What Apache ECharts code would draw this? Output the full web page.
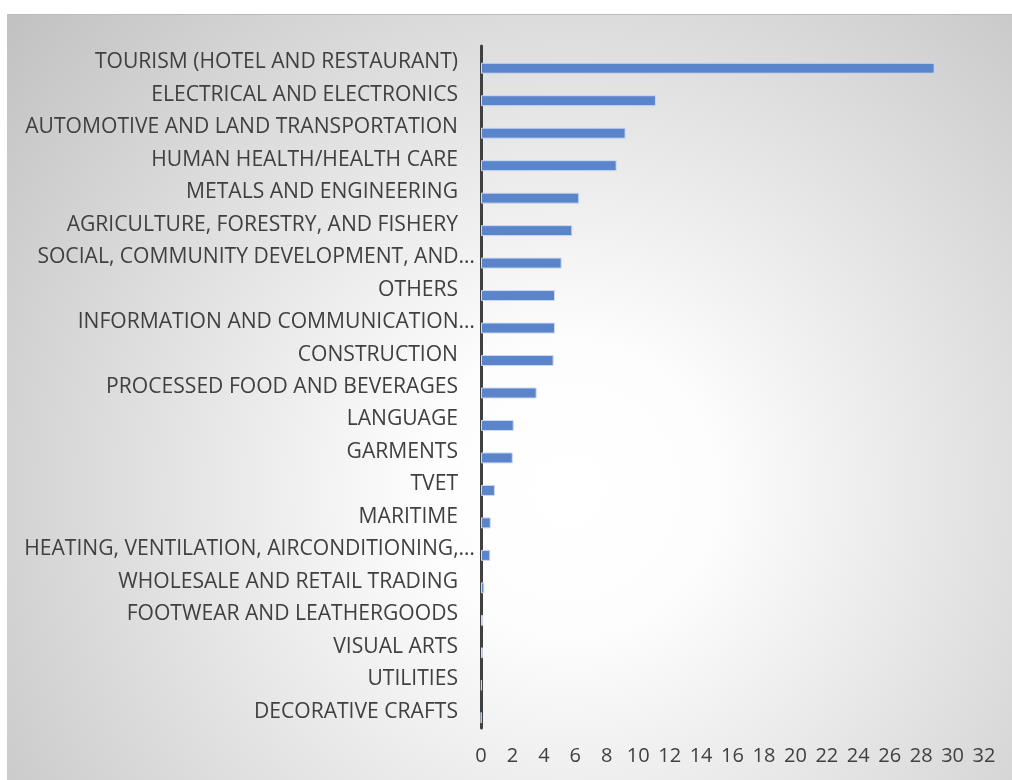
<!DOCTYPE html>
<html>
<head>
<meta charset="utf-8">
<script src="https://cdn.jsdelivr.net/npm/echarts@6/dist/echarts.min.js"></script>
<style>
  html, body { margin: 0; padding: 0; background: #ffffff; }
  #chart {
    position: absolute; left: 7px; top: 14px; width: 1005px; height: 766px;
    border-top: 1px solid #bcbcbc; box-sizing: border-box;
  }
</style>
</head>
<body>
<div id="chart"></div>
<script>
// Sectors, listed top to bottom
const categories = [
  'TOURISM (HOTEL AND RESTAURANT)',
  'ELECTRICAL AND ELECTRONICS',
  'AUTOMOTIVE AND LAND TRANSPORTATION',
  'HUMAN HEALTH/HEALTH CARE',
  'METALS AND ENGINEERING',
  'AGRICULTURE, FORESTRY, AND FISHERY',
  'SOCIAL, COMMUNITY DEVELOPMENT, AND…',
  'OTHERS',
  'INFORMATION AND COMMUNICATION…',
  'CONSTRUCTION',
  'PROCESSED FOOD AND BEVERAGES',
  'LANGUAGE',
  'GARMENTS',
  'TVET',
  'MARITIME',
  'HEATING, VENTILATION, AIRCONDITIONING,…',
  'WHOLESALE AND RETAIL TRADING',
  'FOOTWEAR AND LEATHERGOODS',
  'VISUAL ARTS',
  'UTILITIES',
  'DECORATIVE CRAFTS'
];

// Share per sector
const values = [
  28.86, 11.13, 9.2, 8.63, 6.25, 5.81, 5.13, 4.71, 4.71, 4.62,
  3.54, 2.08, 2.02, 0.89, 0.62, 0.59, 0.21, 0.13, 0.12, 0.05, 0.02
];

// Value axis
const axisMin = 0;
const axisMax = 32;
const axisStep = 2;

const chart = echarts.init(document.getElementById('chart'), null, { renderer: 'canvas' });

const textColor = '#404040';
const fontFamily = '"Open Sans", Lato, sans-serif';
const labelSize = 21.1;
const tickSize = 20;

chart.setOption({
  backgroundColor: {
    type: 'radial', x: 0.56, y: 0.62, r: 0.95,
    colorStops: [
      { offset: 0, color: '#ffffff' },
      { offset: 0.2, color: '#fdfdfd' },
      { offset: 1, color: '#c2c2c2' }
    ]
  },
  animation: false,
  grid: { left: 474, right: 28, top: 31, bottom: 52, containLabel: false },
  xAxis: {
    type: 'value',
    min: axisMin, max: axisMax, interval: axisStep,
    axisLine: { show: false },
    axisTick: { show: false },
    splitLine: { show: false },
    axisLabel: { color: textColor, fontSize: tickSize, fontFamily: fontFamily, margin: 18 }
  },
  yAxis: {
    type: 'category',
    data: categories,
    inverse: true,
    axisLine: { show: true, onZero: false, lineStyle: { color: '#404040', width: 3 } },
    axisTick: { show: false },
    axisLabel: {
      margin: 6,
      color: textColor, fontSize: labelSize, fontFamily: fontFamily,
      formatter: function (v) {
        return v.endsWith('…') ? '{c|' + v + '}' : '{n|' + v + '}';
      },
      rich: {
        n: { color: textColor, fontSize: labelSize, fontFamily: fontFamily, padding: [0, 17, 0, 0] },
        c: { color: textColor, fontSize: labelSize, fontFamily: fontFamily }
      }
    }
  },
  series: [
    {
      // empty companion slot that sets the bars just below each band centre
      type: 'bar', name: 'slot', data: [], barWidth: 11, barGap: '9%'
    },
    {
      type: 'bar', name: 'share', data: values,
      barWidth: 11, barGap: '9%',
      itemStyle: { color: '#5b85cb', borderColor: '#cdd9f0', borderWidth: 1 }
    }
  ]
});
</script>
</body>
</html>
